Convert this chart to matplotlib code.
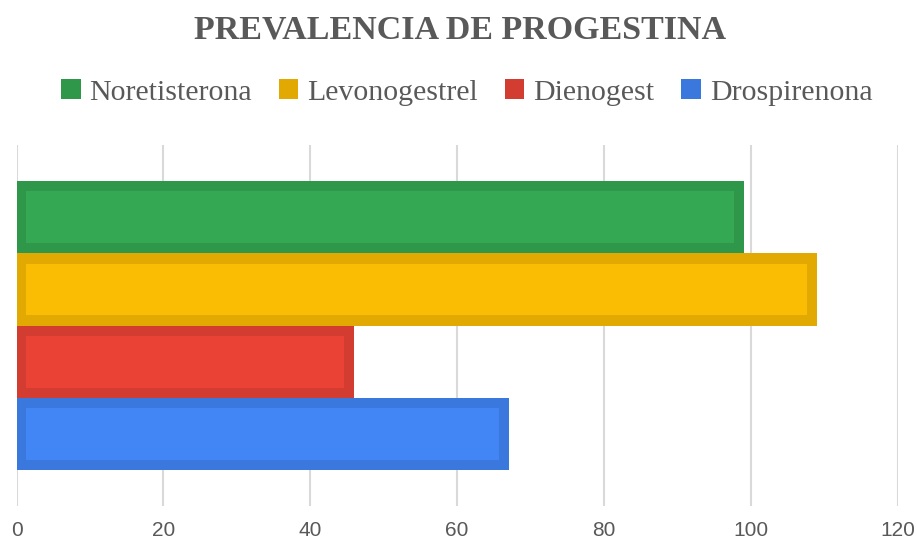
import matplotlib.pyplot as plt
import numpy as np

# datos
progestinas = ["Noretisterona", "Levonogestrel", "Dienogest", "Drospirenona"]
valores = [99, 109, 46, 67]
colores = ["#34A853", "#FBBC04", "#EA4335", "#4285F4"]
bordes = ["#2F9749", "#E2A903", "#D33C30", "#3B78DD"]
ticks_x = [0, 20, 40, 60, 80, 100, 120]

gris = "#595959"

fig = plt.figure(figsize=(9.17, 5.45), dpi=100)
ax = fig.add_axes([0.018, 0.0716, 0.961, 0.662])

ypos = np.arange(len(valores))[::-1]  # Noretisterona arriba
dx = 1.35   # borde en unidades de x (~10 px)
dy = 0.14   # borde en unidades de y
handles = []
for y, v, c, b, nombre in zip(ypos, valores, colores, bordes, progestinas):
    h = ax.barh(y, v, height=1.0, color=b, label=nombre, zorder=2)
    ax.barh(y, v - 2 * dx, left=dx, height=1.0 - 2 * dy, color=c, zorder=3)
    handles.append(h)

ax.set_xlim(0, 120)
ax.set_ylim(-1, 4)
ax.set_xticks(ticks_x)
ax.set_yticks([])
ax.xaxis.grid(True, color="#D9D9D9", linewidth=1.5, zorder=0)
ax.set_axisbelow(True)
for s in ax.spines.values():
    s.set_visible(False)
ax.tick_params(axis="x", length=0, pad=11, labelsize=15, labelcolor=gris)
for t in ax.get_xticklabels():
    t.set_fontfamily("Liberation Sans")

fig.text(0.502, 0.945, "PREVALENCIA DE PROGESTINA", ha="center", va="center",
         fontsize=24.5, fontweight="bold", color=gris, family="Liberation Serif")

fig.legend(handles=handles, labels=progestinas, loc="center", ncol=4,
           bbox_to_anchor=(0.509, 0.83), frameon=False,
           prop={"family": "Liberation Serif", "size": 21.5},
           handlelength=0.65, handleheight=0.65, handletextpad=0.3,
           columnspacing=0.9, labelcolor=gris)

plt.savefig("out.png", dpi=100)
